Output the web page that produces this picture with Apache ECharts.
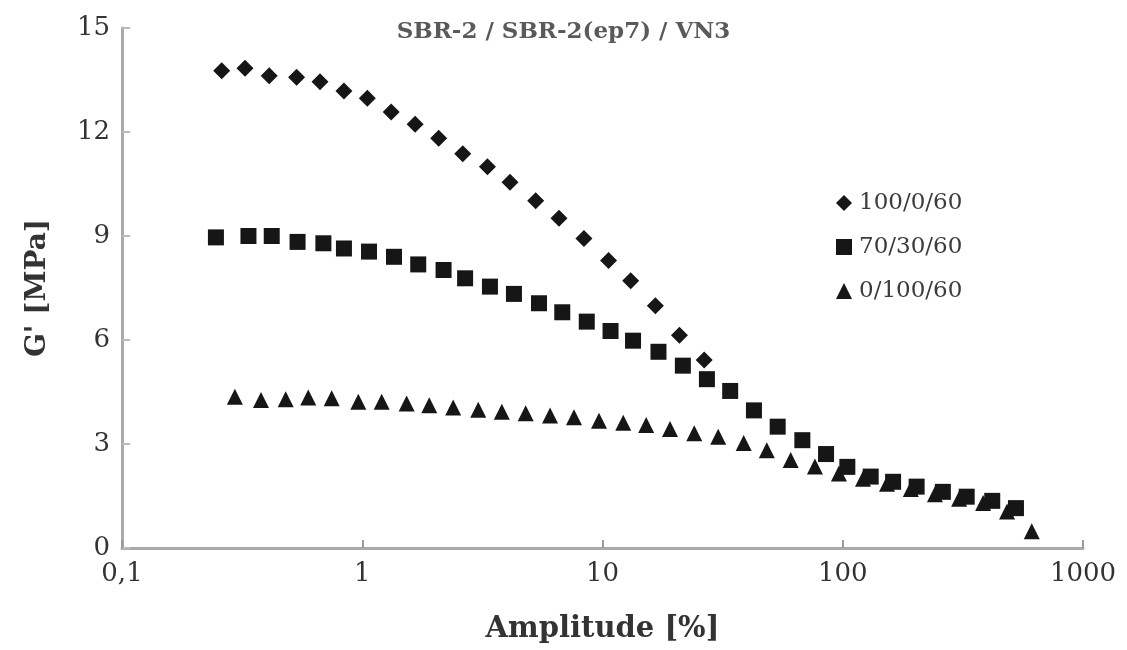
<!DOCTYPE html>
<html>
<head>
<meta charset="utf-8">
<script src="https://cdn.jsdelivr.net/npm/echarts@6/dist/echarts.min.js"></script>
<style>html,body{margin:0;padding:0;background:#fff;}#c{width:1127px;height:650px;}</style>
</head>
<body>
<div id="c"></div>
<script>
// Amplitude [%] values (x) and G' [MPa] values (y) per series
const amp100 = [0.26,0.325,0.41,0.533,0.667,0.839,1.05,1.32,1.66,2.08,2.62,3.32,4.12,5.27,6.59,8.37,10.6,13.1,16.6,20.9,26.5];
const g100   = [13.77,13.84,13.62,13.58,13.45,13.18,12.97,12.58,12.22,11.82,11.37,11.0,10.55,10.02,9.51,8.93,8.29,7.71,6.99,6.14,5.42];

const amp70 = [0.246,0.336,0.42,0.538,0.689,0.839,1.067,1.356,1.71,2.18,2.68,3.40,4.28,5.44,6.80,8.6,10.8,13.4,17.1,21.6,27.2,34.0,42.7,53.6,67.9,85.2,104.5,130.7,162,203,261,328,419,526];
const g70   = [8.96,9.0,9.0,8.83,8.79,8.64,8.55,8.40,8.18,8.02,7.78,7.54,7.33,7.06,6.80,6.53,6.26,5.98,5.66,5.26,4.87,4.53,3.97,3.50,3.11,2.71,2.34,2.06,1.91,1.77,1.62,1.48,1.36,1.15];

const amp0 = [0.295,0.379,0.48,0.596,0.746,0.963,1.205,1.53,1.90,2.39,3.04,3.81,4.79,6.05,7.61,9.67,12.2,15.2,19.1,24.1,30.3,38.7,48.3,60.7,76.6,96.4,121.4,152.8,192,242,305,384,483,612];
const g0   = [4.36,4.27,4.29,4.34,4.32,4.22,4.22,4.17,4.12,4.05,3.99,3.93,3.89,3.82,3.77,3.67,3.61,3.55,3.43,3.31,3.21,3.03,2.82,2.54,2.35,2.15,2.0,1.85,1.7,1.55,1.42,1.3,1.05,0.48];

const seriesNames = ['100/0/60','70/30/60','0/100/60'];
const yTicks = [0,3,6,9,12,15];
const xTicks = [0.1,1,10,100,1000];

const zip = (a,b) => a.map((v,i)=>[v,b[i]]);
const diamondPath = 'path://M0,-1L1,0L0,1L-1,0Z';
const serif = 'DejaVu Serif';
const ink = '#161616';

const chart = echarts.init(document.getElementById('c'), null, {renderer:'canvas'});
chart.setOption({
  animation: false,
  backgroundColor: '#fff',
  title: {
    text: 'SBR-2 / SBR-2(ep7) / VN3',
    left: 'center', top: 16,
    textStyle: {fontFamily: serif, fontSize: 23, fontWeight: 'bold', color: '#5a5a5a'}
  },
  legend: {
    orient: 'vertical', left: 831, top: 186, itemGap: 20,
    itemWidth: 16, itemHeight: 16,
    textStyle: {fontFamily: serif, fontSize: 23, color: '#3c3c3c', lineHeight: 24, padding: [0,0,0,2]},
    data: [
      {name: seriesNames[0], icon: diamondPath},
      {name: seriesNames[1], icon: 'rect'},
      {name: seriesNames[2], icon: 'triangle'}
    ]
  },
  grid: {left: 122, right: 44, top: 28, bottom: 102, containLabel: false},
  xAxis: {
    type: 'log', logBase: 10, min: xTicks[0], max: xTicks[xTicks.length-1],
    name: 'Amplitude [%]', nameLocation: 'middle', nameGap: 67,
    nameTextStyle: {fontFamily: serif, fontSize: 29, fontWeight: 'bold', color: '#333'},
    axisLine: {show: true, lineStyle: {color: '#aaa', width: 3}},
    axisTick: {show: true, inside: true, length: 8, lineStyle: {color: '#999', width: 2}},
    axisLabel: {fontFamily: serif, fontSize: 26, color: '#333', margin: 13,
      formatter: v => (Math.abs(v-0.1)<1e-9 ? '0,1' : String(Math.round(v)))},
    splitLine: {show: false}
  },
  yAxis: {
    type: 'value', min: yTicks[0], max: yTicks[yTicks.length-1], interval: 3,
    name: "G' [MPa]", nameLocation: 'middle', nameGap: 70, nameRotate: 90,
    nameTextStyle: {fontFamily: serif, fontSize: 28, fontWeight: 'bold', color: '#333'},
    axisLine: {show: true, lineStyle: {color: '#aaa', width: 3}},
    axisTick: {show: true, inside: true, length: 8, lineStyle: {color: '#bbb', width: 2}},
    axisLabel: {fontFamily: serif, fontSize: 26, color: '#333', margin: 12},
    splitLine: {show: false}
  },
  series: [
    {name: seriesNames[0], type: 'scatter', symbol: diamondPath, symbolSize: 17, z: 3,
     itemStyle: {color: ink, opacity: 1}, data: zip(amp100, g100)},
    {name: seriesNames[1], type: 'scatter', symbol: 'rect', symbolSize: 16, z: 4,
     itemStyle: {color: ink, opacity: 1}, data: zip(amp70, g70)},
    {name: seriesNames[2], type: 'scatter', symbol: 'triangle', symbolSize: 16, z: 2,
     itemStyle: {color: ink, opacity: 1}, data: zip(amp0, g0)}
  ]
});
</script>
</body>
</html>
